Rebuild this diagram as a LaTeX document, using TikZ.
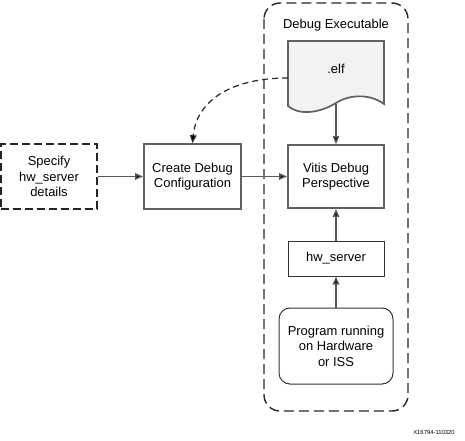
\documentclass[tikz,border=0pt]{standalone}
\usepackage{fontspec}
\setmainfont{Liberation Sans}
\usetikzlibrary{arrows.meta}
\begin{document}
\begin{tikzpicture}[x=1bp,y=-1bp,
  line width=1.4bp,
  box/.style={draw=black!62, line width=1.7bp, rectangle, align=center, inner sep=1bp,
    font=\fontsize{13}{15.5}\selectfont},
  thinbox/.style={box, draw=black!80, line width=1bp},
  conn/.style={draw=black!65, line width=1.4bp, -{Triangle[length=8bp,width=6.5bp,fill=black]}},
  lbl/.style={font=\fontsize{13}{15.5}\selectfont, inner sep=0pt}]
\useasboundingbox (0,0) rectangle (465,441);
% container
\draw[black!85, dash pattern=on 10bp off 5bp, rounded corners=16bp] (264,3) rectangle (408,411);
\node[lbl] (title) at (336,25) {Debug Executable};
% elf document
\draw[black!62, line width=1.7bp, fill=black!5] (288,41) -- (384,41) -- (384,104)
  .. controls (372,95) and (352,93) .. (336,103)
  .. controls (318,114) and (298,115) .. (288,106) -- cycle;
\node[lbl] (elf) at (336,69) {.elf};
\coordinate (elfbot) at (336,104);
\coordinate (elfleft) at (288,78);
% boxes
\node[box, draw=black!85, line width=1.4bp, dash pattern=on 8bp off 4bp, minimum width=96bp, minimum height=65bp] (spec) at (49,176.5) {Specify\\hw\_server\\details};
\node[box, minimum width=97bp, minimum height=65bp] (create) at (192.5,176.5) {Create Debug\\Configuration};
\node[box, minimum width=96bp, minimum height=63bp] (vitis) at (336,176.5) {Vitis Debug\\Perspective};
\node[thinbox, minimum width=96bp, minimum height=35bp] (hw) at (336,258.5) {hw\_server};
\node[thinbox, rounded corners=11bp, minimum width=114bp, minimum height=76bp] (prog) at (336,346) {Program running\\on Hardware\\or ISS};
% connectors
\draw[conn] (spec.east) -- (create.west);
\draw[conn] (create.east) -- (vitis.west);
\draw[conn] (elfbot) -- (vitis.north);
\draw[conn] (hw.north) -- (vitis.south);
\draw[conn] (prog.north) -- (hw.south);
\draw[conn, draw=black!85, line width=1.2bp, dash pattern=on 6bp off 4bp] (elfleft) .. controls (225,78) and (196,105) .. (create.north);
% id label
\node[font=\fontsize{5.9}{7}\selectfont, inner sep=0pt] (id) at (434,432) {X16794-110320};
\end{tikzpicture}
\end{document}
